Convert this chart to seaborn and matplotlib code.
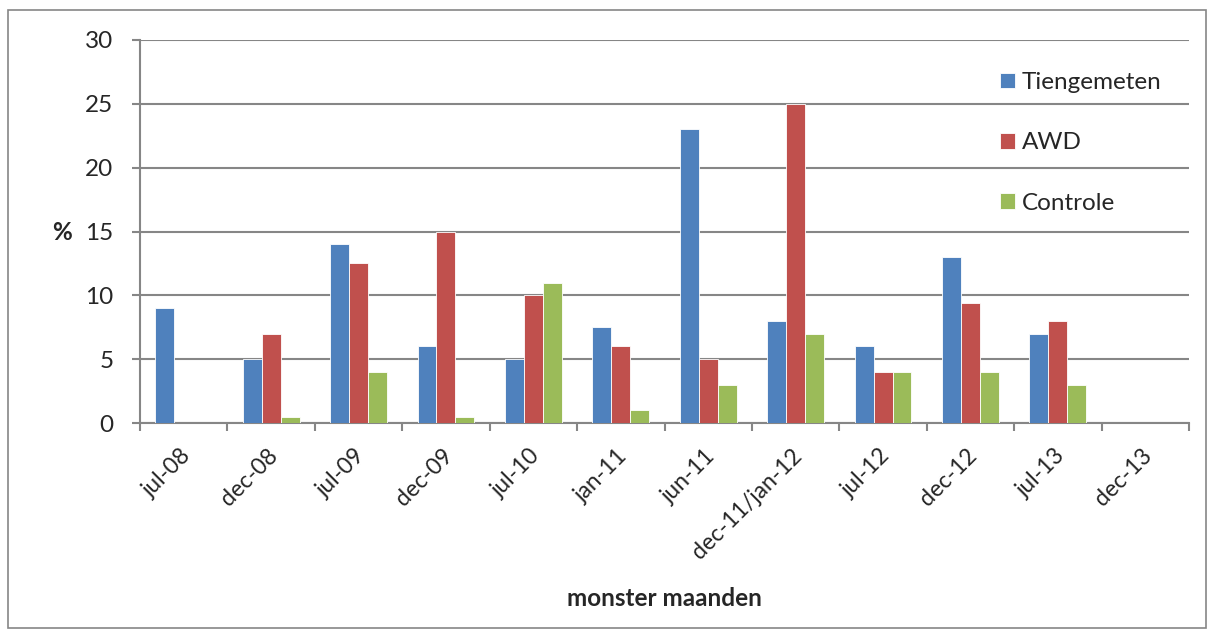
import seaborn as sns
import matplotlib.pyplot as plt
import matplotlib.transforms as mtransforms
import pandas as pd
from matplotlib.patches import Rectangle

# data
months = ['jul-08', 'dec-08', 'jul-09', 'dec-09', 'jul-10', 'jan-11',
          'jun-11', 'dec-11/jan-12', 'jul-12', 'dec-12', 'jul-13', 'dec-13']
tiengemeten = [9, 5, 14, 6, 5, 7.5, 23, 8, 6, 13, 7, 0]
awd = [0, 7, 12.5, 15, 10, 6, 5, 25, 4, 9.4, 8, 0]
controle = [0, 0.5, 4, 0.5, 11, 1, 3, 7, 4, 4, 3, 0]
series = ['Tiengemeten', 'AWD', 'Controle']
colors = ['#4F81BD', '#C0504D', '#9BBB59']

df = pd.DataFrame({
    'maand': months * 3,
    'serie': [s for s in series for _ in months],
    'pct': tiengemeten + awd + controle,
})

sns.set_style('white')
plt.rcParams['font.family'] = ['Lato', 'DejaVu Sans']
grey = '#868686'
fs = 17.5

fig = plt.figure(figsize=(12.14, 6.37), dpi=100)
ax = fig.add_axes([140 / 1214, 1 - 423 / 637, 1049 / 1214, 383 / 637])

sns.barplot(data=df, x='maand', y='pct', hue='serie', order=months,
            hue_order=series, palette=colors, width=0.65, saturation=1,
            edgecolor='white', linewidth=0.6, ax=ax, zorder=3)

ax.set_xlim(-0.5, len(months) - 0.5)
ax.set_ylim(0, 30)
ax.set_yticks(range(0, 31, 5))
ax.yaxis.grid(True, color=grey, linewidth=1.5, zorder=0)
ax.set_axisbelow(True)

for s in ['top', 'right']:
    ax.spines[s].set_visible(False)
for s in ['left', 'bottom']:
    ax.spines[s].set_color(grey)
    ax.spines[s].set_linewidth(1.5)

ax.tick_params(axis='y', left=True, length=6, width=1.5, color=grey,
               labelsize=fs, pad=13)
ax.tick_params(axis='x', which='major', length=0, labelsize=16.5, pad=16)
ax.set_xticks([i - 0.5 for i in range(len(months) + 1)], minor=True)
ax.tick_params(axis='x', which='minor', bottom=True, length=6, width=1.5,
               color=grey)
shift = mtransforms.ScaledTranslation(-4 / 100, 0, fig.dpi_scale_trans)
for lab in ax.get_xticklabels():
    lab.set_rotation(45)
    lab.set_ha('right')
    lab.set_va('top')
    lab.set_rotation_mode('anchor')
    lab.set_transform(lab.get_transform() + shift)

ax.set_xlabel('monster maanden', fontsize=fs, fontweight='bold')
ax.xaxis.set_label_coords(0.5, (423 - 598) / 383)
ax.xaxis.label.set_va('center')
ax.set_ylabel('%', fontsize=fs, fontweight='bold', rotation=0)
ax.yaxis.set_label_coords((62 - 140) / 1049, (423 - 232) / 383)
ax.yaxis.label.set_va('center')
ax.yaxis.label.set_ha('center')

ax.legend(loc='upper left', bbox_to_anchor=((1000 - 140) / 1049, (423 - 72) / 383),
          frameon=False, fontsize=fs, labelspacing=1.62, handlelength=0.6,
          handleheight=0.6, handletextpad=0.3, borderpad=0, borderaxespad=0,
          title=None)

fig.patches.append(Rectangle((8 / 1214, 1 - 628 / 637), 1198 / 1214,
                             618 / 637, transform=fig.transFigure,
                             fill=False, edgecolor=grey, linewidth=1.2))

fig.savefig('out.png', dpi=100)
